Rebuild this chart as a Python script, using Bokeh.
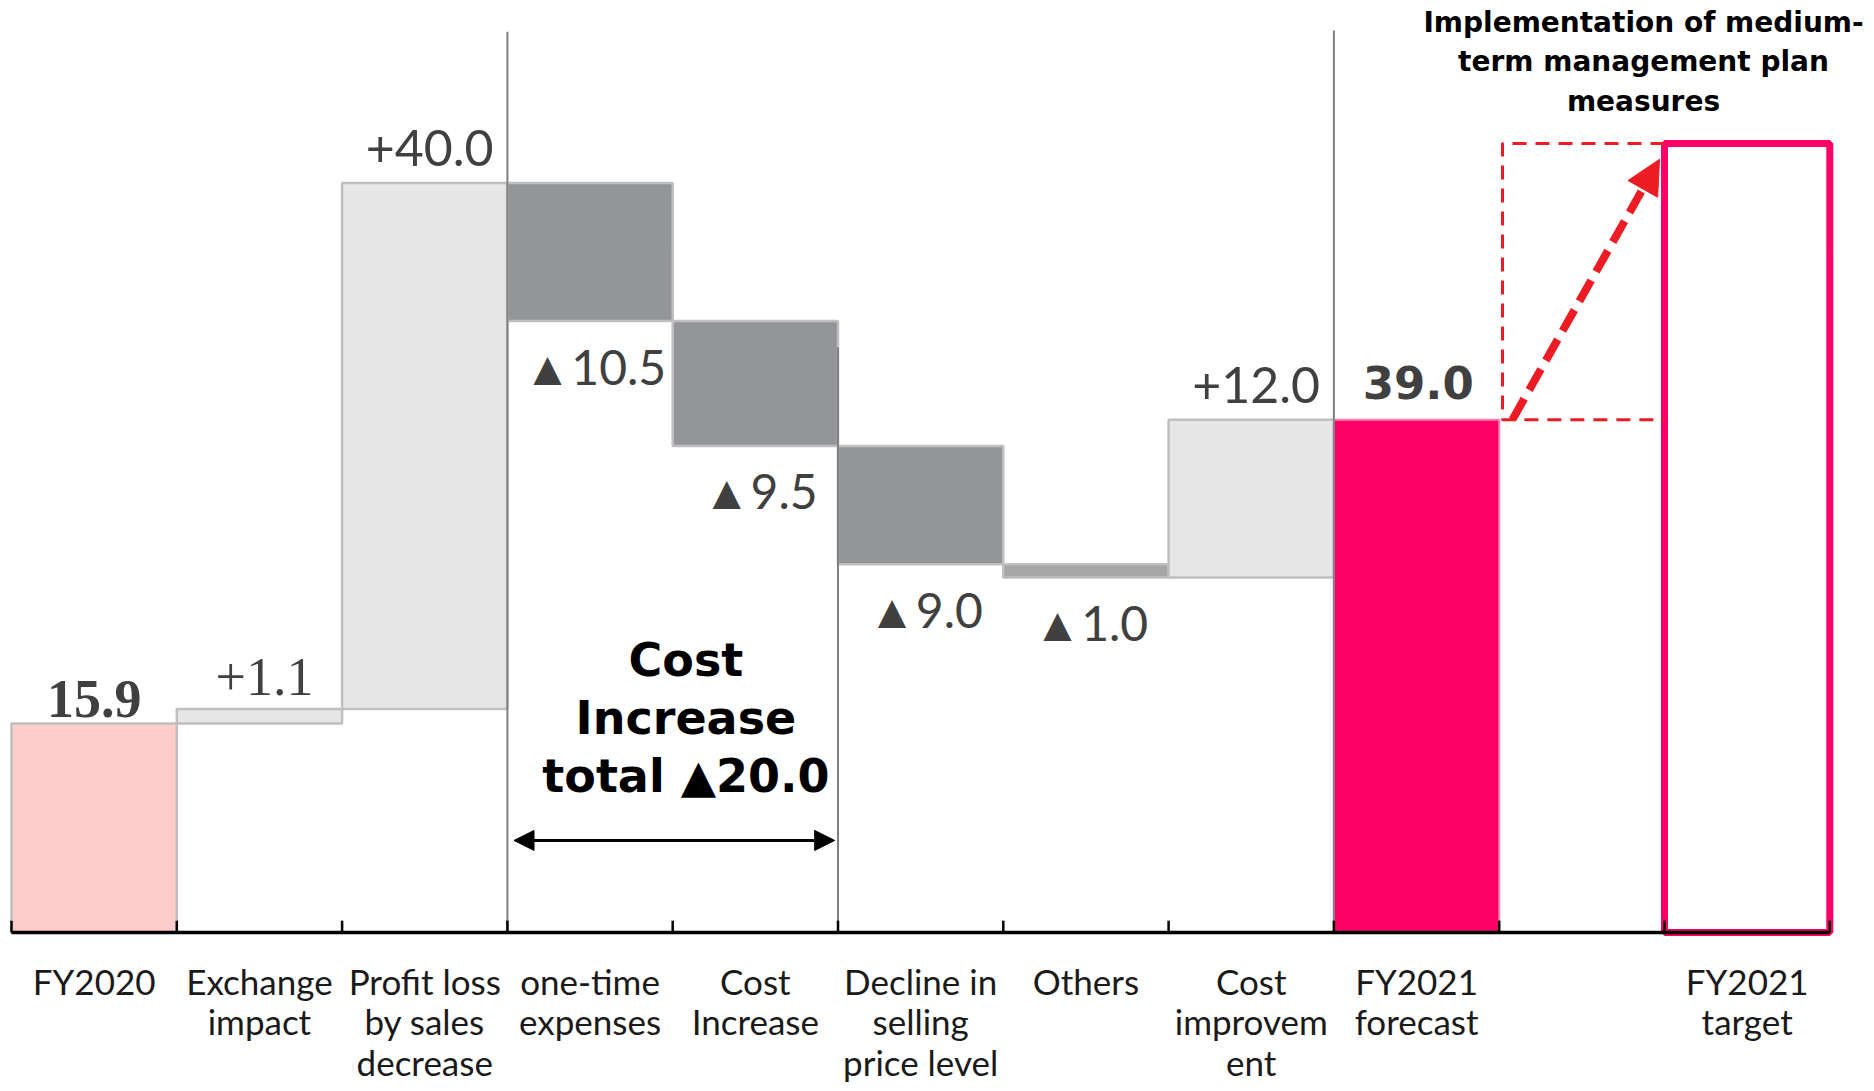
from bokeh.plotting import figure
from bokeh.models import ColumnDataSource, Range1d, Arrow, NormalHead
from bokeh.core.properties import value
from bokeh.embed import file_html
from bokeh.resources import INLINE

# ---- data -------------------------------------------------------------
categories = [
    "FY2020", "Exchange\nimpact", "Profit loss\nby sales\ndecrease",
    "one-time\nexpenses", "Cost\nIncrease", "Decline in\nselling\nprice level",
    "Others", "Cost\nimprovem\nent", "FY2021\nforecast", "", "FY2021\ntarget",
]
fy2020_profit = 15.9
step_values = [1.1, 40.0, -10.5, -9.5, -9.0, -1.0, 12.0]
fy2021_forecast = 39.0
fy2021_target = 60.0
cost_increase_items = [3, 4]          # slots grouped under the "Cost Increase total" bracket

# ---- styles -----------------------------------------------------------
EDGE = "#BFBFBF"
LIGHT = "#E6E6E6"
DARK = "#939598"
MID = "#A6A6A6"
PINK = "#FF0066"
RED = "#ED1C24"
TXT = "#404040"
NARROW = "Lato"

step_fills = [LIGHT, LIGHT, DARK, DARK, DARK, MID, LIGHT]

# ---- waterfall geometry from the values ------------------------------
level = fy2020_profit
step_left, step_bottom, step_top, step_label, step_anchor = [], [], [], [], []
for i, v in enumerate(step_values):
    slot = i + 1
    lo, hi = min(level, level + v), max(level, level + v)
    step_left.append(slot)
    step_bottom.append(lo)
    step_top.append(hi)
    step_label.append(("+%.1f" % v) if v > 0 else ("\u25b2%.1f" % abs(v)))
    step_anchor.append(hi if v > 0 else lo)
    level += v

W, H = 1874, 1091
px_per_unit = 13.15
slot_px = 165.3
left_px = 11
zero_px = 932
y_top = zero_px / px_per_unit

p = figure(
    width=W, height=H, output_backend="svg", toolbar_location=None,
    x_range=Range1d(-left_px / slot_px, (W - left_px) / slot_px),
    y_range=Range1d(-(H - zero_px) / px_per_unit, y_top),
    x_axis_location=None, y_axis_location=None,
    min_border_left=0, min_border_right=0, min_border_top=0, min_border_bottom=0,
)
p.outline_line_color = None
p.xgrid.visible = False
p.ygrid.visible = False
p.background_fill_color = "white"

# FY2020 bar
p.quad(left=[0], right=[1], bottom=[0], top=[fy2020_profit],
       fill_color="#FFCCCC", line_color=EDGE, line_width=2.5)

# movement bars
steps = ColumnDataSource(dict(
    left=step_left, right=[s + 1 for s in step_left],
    bottom=step_bottom, top=step_top, fill=step_fills,
))
p.quad(left="left", right="right", bottom="bottom", top="top", source=steps,
       fill_color="fill", line_color=EDGE, line_width=2.5)

# FY2021 forecast and target
p.quad(left=[8], right=[9], bottom=[0], top=[fy2021_forecast],
       fill_color=PINK, line_color="#FF80AA", line_width=2)
p.quad(left=[10], right=[11], bottom=[0], top=[fy2021_target],
       fill_color="white", line_color=PINK, line_width=7)

# separators
p.segment(x0=[3, 5, 8], x1=[3, 5, 8], y0=[0, 0, 0], y1=[68.5, 44.5, 68.6],
          line_color="#808080", line_width=2)

# baseline and boundary ticks
p.segment(x0=[0], x1=[11], y0=[0], y1=[0], line_color="black", line_width=3.5)
bounds = list(range(len(categories) + 1))
p.segment(x0=bounds, x1=bounds, y0=[0] * len(bounds), y1=[0.9] * len(bounds),
          line_color="black", line_width=2.5)

# category labels under the baseline
cat_x = [i + 0.5 for i, c in enumerate(categories) if c]
cat_t = [c for c in categories if c]
p.text(x=cat_x, y=[0] * len(cat_x), text=cat_t, text_font=value(NARROW),
       text_font_size="35px", text_color="#1a1a1a", text_align="center",
       text_baseline="top", text_line_height=0.97, y_offset=27)

# value labels
p.text(x=[0.5], y=[fy2020_profit], text=["%.1f" % fy2020_profit],
       text_font=value("Liberation Serif"), text_font_style="bold",
       text_font_size="54px", text_color=TXT, text_align="center",
       text_baseline="middle", y_offset=-24)

p.text(x=[step_left[0] + 0.53], y=[step_anchor[0]], text=[step_label[0]],
       text_font=value("Liberation Serif"), text_font_size="54px",
       text_color=TXT, text_align="center", text_baseline="middle", y_offset=-32)

up = [i for i in range(1, len(step_values)) if step_values[i] > 0]
down = [i for i in range(1, len(step_values)) if step_values[i] < 0]
p.text(x=[step_left[i] + 0.53 for i in up], y=[step_anchor[i] for i in up],
       text=[step_label[i] for i in up], text_font=value(NARROW),
       text_font_size="50px", text_color=TXT, text_align="center",
       text_baseline="middle", y_offset=-35)
p.text(x=[step_left[i] + 0.53 for i in down], y=[step_anchor[i] for i in down],
       text=[step_label[i] for i in down], text_font=value(NARROW),
       text_font_size="48px", text_color=TXT, text_align="center",
       text_baseline="middle", y_offset=45)

p.text(x=[8.51], y=[fy2021_forecast], text=["%.1f" % fy2021_forecast],
       text_font=value("DejaVu Sans"), text_font_style="bold",
       text_font_size="45px", text_color=TXT, text_align="center",
       text_baseline="middle", y_offset=-37)

# cost increase bracket
cost_total = sum(step_values[i - 1] for i in cost_increase_items)
bracket_y = 7.0
p.add_layout(Arrow(
    start=NormalHead(size=20, fill_color="black", line_color="black"),
    end=NormalHead(size=20, fill_color="black", line_color="black"),
    x_start=cost_increase_items[0] + 0.04, y_start=bracket_y,
    x_end=cost_increase_items[-1] + 0.98, y_end=bracket_y,
    line_color="black", line_width=3,
))
p.text(x=[4.08], y=[bracket_y], text=["Cost\nIncrease\ntotal \u25b2%.1f" % abs(cost_total)],
       text_font=value("DejaVu Sans"), text_font_style="bold",
       text_font_size="46px", text_color="black", text_align="center",
       text_baseline="bottom", text_line_height=1.08, y_offset=-37)

# medium-term plan gap
p.line(x=[10, 9.02, 9.02, 10], y=[fy2021_target, fy2021_target, fy2021_forecast, fy2021_forecast],
       line_color=RED, line_width=3, line_dash="14 9")
p.add_layout(Arrow(
    end=NormalHead(size=34, fill_color=RED, line_color=RED),
    x_start=9.08, y_start=fy2021_forecast, x_end=9.97, y_end=fy2021_target - 1.2,
    line_color=RED, line_width=8, line_dash="24 10",
))
p.text(x=[9.873], y=[y_top],
       text=["Implementation of medium-\nterm management plan\nmeasures"],
       text_font=value("DejaVu Sans"), text_font_style="bold",
       text_font_size="28px", text_color="black", text_align="center",
       text_baseline="top", text_line_height=1.2, y_offset=5)

open("out.html", "w").write(file_html(p, INLINE))
